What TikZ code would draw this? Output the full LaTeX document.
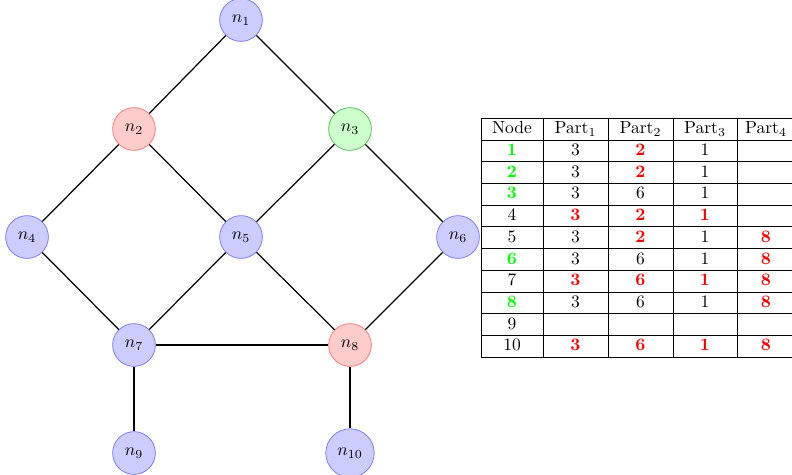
\documentclass[tikz,border=0pt]{standalone}
\usetikzlibrary{matrix}
\begin{document}
\begin{tikzpicture}[x=0.5714pt,y=-0.5714pt,
  vtx/.style={circle, draw, inner sep=4.5pt},
  vblue/.style={vtx, draw=blue!55, fill=blue!20},
  vred/.style={vtx, draw=red!55, fill=red!20},
  vgreen/.style={vtx, draw=green!60!black!70, fill=green!20},
  edge/.style={draw=black, line width=0.7pt},
  gb/.style={text=green, font=\bfseries},
  rb/.style={text=red, font=\bfseries}]
\useasboundingbox (0,0) rectangle (792,474);

% graph vertices
\node[vblue]  (n1)  at (241,20)  {$n_1$};
\node[vred]   (n2)  at (134,129) {$n_2$};
\node[vgreen] (n3)  at (350,129) {$n_3$};
\node[vblue]  (n4)  at (27,237)  {$n_4$};
\node[vblue]  (n5)  at (241,237) {$n_5$};
\node[vblue]  (n6)  at (458,237) {$n_6$};
\node[vblue]  (n7)  at (134,345) {$n_7$};
\node[vred]   (n8)  at (350,345) {$n_8$};
\node[vblue]  (n9)  at (134,453) {$n_9$};
\node[vblue]  (n10) at (350,453) {$n_{10}$};

% graph edges
\foreach \a/\b in {n1/n2,n1/n3,n2/n4,n2/n5,n3/n5,n3/n6,n4/n7,n5/n7,n5/n8,n6/n8,n7/n8,n7/n9,n8/n10}
  \path[edge] (\a) -- (\b);

% partition table: cell texts
\matrix (tbl) [matrix of nodes, nodes in empty cells,
  anchor=north west, inner sep=0pt, outer sep=0pt,
  column sep=0pt, row sep=0pt,
  nodes={inner sep=0pt, outer sep=0pt,
         minimum height=12.4pt, text height=1.55ex, text depth=0.3ex, anchor=center},
  column 1/.style={nodes={minimum width=35.43pt}},
  column 2/.style={nodes={minimum width=37.14pt}},
  column 3/.style={nodes={minimum width=37.14pt}},
  column 4/.style={nodes={minimum width=36.57pt}},
  column 5/.style={nodes={minimum width=33.14pt}}]
  at (481,118.3) {
  Node & Part$_1$ & Part$_2$ & Part$_3$ & Part$_4$ \\
  |[gb]|1 & 3 & |[rb]|2 & 1 & \\
  |[gb]|2 & 3 & |[rb]|2 & 1 & \\
  |[gb]|3 & 3 & 6 & 1 & \\
  4 & |[rb]|3 & |[rb]|2 & |[rb]|1 & \\
  5 & 3 & |[rb]|2 & 1 & |[rb]|8 \\
  |[gb]|6 & 3 & 6 & 1 & |[rb]|8 \\
  7 & |[rb]|3 & |[rb]|6 & |[rb]|1 & |[rb]|8 \\
  |[gb]|8 & 3 & 6 & 1 & |[rb]|8 \\
  9 & & & & \\
  10 & |[rb]|3 & |[rb]|6 & |[rb]|1 & |[rb]|8 \\
};

% partition table: rules
\foreach \k in {0,...,11}
  \draw[line width=0.45pt] (481,118.3+21.7*\k) -- (795,118.3+21.7*\k);
\foreach \xx in {481,543,608,673,737,795}
  \draw[line width=0.45pt] (\xx,118.3) -- (\xx,357);
\end{tikzpicture}
\end{document}
